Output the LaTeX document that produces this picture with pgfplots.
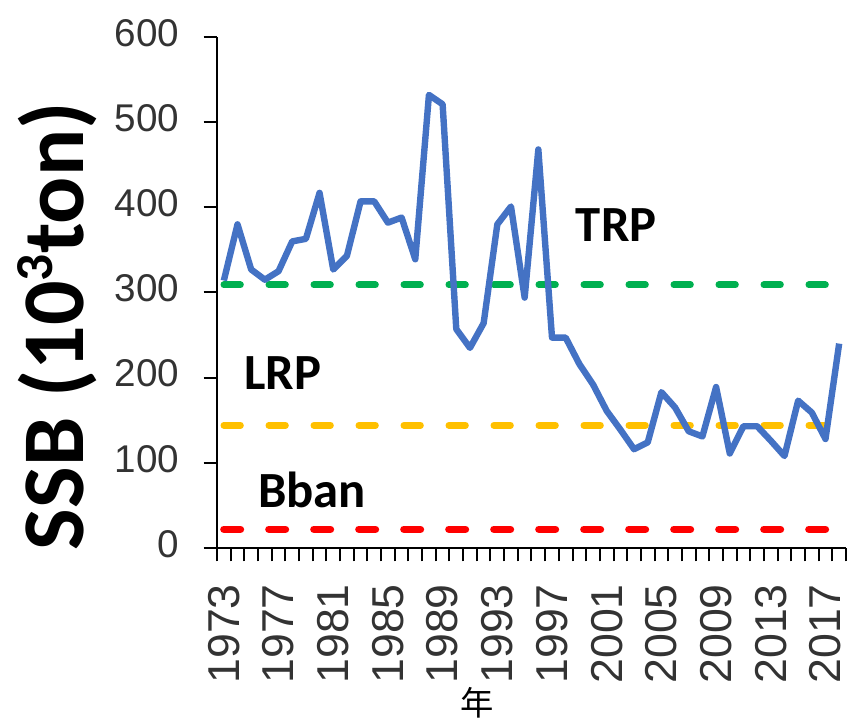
\documentclass[border=0pt]{standalone}
\usepackage{fontspec}
\setmainfont{Liberation Sans}
\newfontfamily\carlito{Carlito}
\newfontfamily\cjk{Noto Sans CJK JP}
\usepackage{pgfplots}
\pgfplotsset{compat=1.18}

\definecolor{ssbblue}{RGB}{68,114,196}
\definecolor{trpgreen}{RGB}{0,176,80}
\definecolor{lrpyellow}{RGB}{255,192,0}
\definecolor{bbanred}{RGB}{255,0,0}

% spawning stock biomass, 10^3 ton
\pgfplotstableread{
year ssb
1973 314
1974 380
1975 327
1976 315
1977 325
1978 360
1979 363
1980 417
1981 327
1982 343
1983 407
1984 407
1985 382
1986 388
1987 339
1988 532
1989 521
1990 257
1991 235
1992 264
1993 380
1994 401
1995 294
1996 468
1997 247
1998 247
1999 216
2000 192
2001 161
2002 139
2003 116
2004 124
2005 183
2006 165
2007 137
2008 131
2009 189
2010 111
2011 143
2012 143
2013 126
2014 108
2015 173
2016 159
2017 128
2018 240
}\ssbdata

\begin{document}
\begin{tikzpicture}
\begin{axis}[
    at={(0,0)}, anchor=south west,
    scale only axis,
    width=471.75pt, height=383.25pt,
    xmin=1972.5, xmax=2018.5,
    ymin=0, ymax=600,
    enlargelimits=false,
    clip=false,
    axis lines*=left,
    axis line style={black, line width=1.5pt},
    tick style={black, line width=1.5pt},
    tick align=outside,
    major tick length=10pt,
    /pgf/number format/assume math mode=true,
    /pgf/number format/1000 sep={},
    ytick={0,100,...,600},
    yticklabel style={font=\fontsize{29}{29}\selectfont, text=black!80, inner sep=0pt, yshift=3pt},
    yticklabel shift=18pt,
    xtick={1972.5,1973.5,...,2018.5},
    xticklabels={},
    extra x ticks={1973,1977,1981,1985,1989,1993,1997,2001,2005,2009,2013,2017},
    extra x tick labels={1973,1977,1981,1985,1989,1993,1997,2001,2005,2009,2013,2017},
    extra x tick style={major tick length=0pt},
    xticklabel style={font=\fontsize{33.5}{33.5}\selectfont, text=black!80, rotate=90, anchor=east, inner sep=0pt},
    xticklabel shift=27pt,
    ylabel={\carlito\bfseries SSB (10\raisebox{0.36em}{\fontsize{40}{40}\selectfont 3}ton)},
    ylabel style={at={(axis description cs:-0.254,0.434)}, anchor=center, font=\fontsize{66}{66}\selectfont},
    xlabel={\cjk 年},
    xlabel style={at={(axis description cs:0.413,-0.303)}, anchor=center, font=\fontsize{25}{25}\selectfont},
]
\addplot[trpgreen, line width=5pt, line cap=round, dash pattern=on 12.5pt off 21.25pt]
    coordinates {(1973,309) (2017,309)};
\addplot[lrpyellow, line width=5pt, line cap=round, dash pattern=on 12.5pt off 21.25pt]
    coordinates {(1973,144) (2017,144)};
\addplot[bbanred, line width=5.5pt, line cap=round, dash pattern=on 12.5pt off 21.25pt]
    coordinates {(1973,22) (2017,22)};
\addplot[ssbblue, line width=4.8pt, line join=round, mark=none] table[x=year, y=ssb] {\ssbdata};

\node[font=\carlito\bfseries\fontsize{38}{38}\selectfont] at (axis cs:2001.7,379) {TRP};
\node[font=\carlito\bfseries\fontsize{38}{38}\selectfont] at (axis cs:1977.3,205) {LRP};
\node[font=\carlito\bfseries\fontsize{38}{38}\selectfont] at (axis cs:1979.45,68) {Bban};
\end{axis}
\pgfresetboundingbox
\path[use as bounding box] (-162.75pt,-129pt) rectangle (474pt,411pt);
\end{tikzpicture}
\end{document}
